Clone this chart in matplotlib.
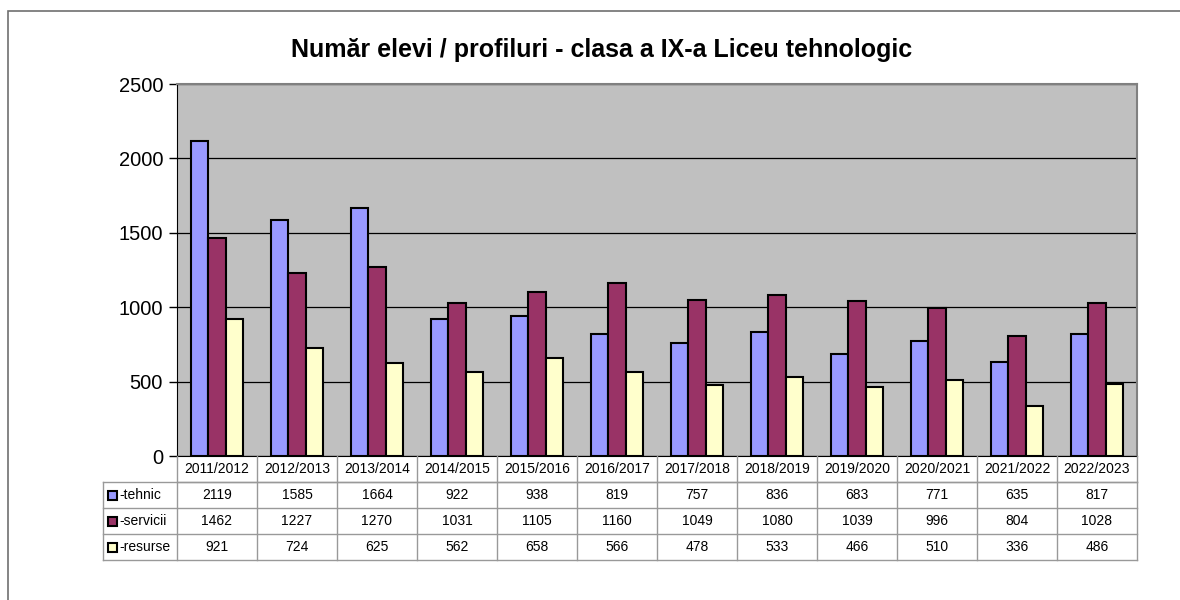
# Număr elevi / profiluri - clasa a IX-a Liceu tehnologic (grafic cu tabel de date)

import numpy as np
import matplotlib
matplotlib.use('Agg')
import matplotlib.pyplot as plt
from matplotlib.patches import Rectangle
from matplotlib.transforms import blended_transform_factory

plt.rcParams['font.family'] = ['Liberation Sans', 'DejaVu Sans']

# date
ani = ['2011/2012', '2012/2013', '2013/2014', '2014/2015', '2015/2016', '2016/2017',
       '2017/2018', '2018/2019', '2019/2020', '2020/2021', '2021/2022', '2022/2023']
tehnic = [2119, 1585, 1664, 922, 938, 819, 757, 836, 683, 771, 635, 817]
servicii = [1462, 1227, 1270, 1031, 1105, 1160, 1049, 1080, 1039, 996, 804, 1028]
resurse = [921, 724, 625, 562, 658, 566, 478, 533, 466, 510, 336, 486]
serii = ['-tehnic', '-servicii', '-resurse']
culori = ['#9999FF', '#993366', '#FFFFCC']

W, H = 1180, 600
fig = plt.figure(figsize=(W / 100, H / 100), dpi=100)

# chenar exterior
fig.add_artist(Rectangle((8 / W, -0.1), 1.2, 1 - 11 / H + 0.1, transform=fig.transFigure,
                         fill=False, edgecolor='#707070', linewidth=1.2))

ax = fig.add_axes([177 / W, 1 - 456 / H, 960 / W, 372 / H])
ax.set_facecolor('#C0C0C0')

x = np.arange(len(ani))
bw = 0.22
valori = [tehnic, servicii, resurse]
for i, (v, c) in enumerate(zip(valori, culori)):
    ax.bar(x + (i - 1) * bw, v, width=bw, color=c, edgecolor='black', linewidth=1.5, zorder=3)

ax.set_xlim(-0.5, len(ani) - 0.5)
ax.set_ylim(0, 2500)
ax.set_yticks([0, 500, 1000, 1500, 2000, 2500])
ax.yaxis.grid(True, color='black', linewidth=0.9, zorder=1)
ax.set_axisbelow(True)
ax.tick_params(axis='y', labelsize=14.5, length=6, width=1, pad=4)
ax.tick_params(axis='x', bottom=False, labelbottom=False)
for s in ['top', 'right']:
    ax.spines[s].set_color('#808080')
    ax.spines[s].set_linewidth(1.5)
ax.spines['left'].set_color('black')
ax.spines['bottom'].set_color('black')

fig.text(602 / W, 1 - 50 / H, 'Număr elevi / profiluri - clasa a IX-a Liceu tehnologic',
         ha='center', va='center', fontsize=18, fontweight='bold')

# tabel de date
tr = blended_transform_factory(ax.transData, fig.transFigure)
rand_y = [456, 482, 508, 534, 560]  # limite randuri in pixeli
fy = lambda p: 1 - p / H
gri = '#999999'
xs_col = np.arange(len(ani) + 1) - 0.5

# linii verticale
for xc in xs_col:
    fig.add_artist(plt.Line2D([xc, xc], [fy(456), fy(560)], transform=tr, color=gri, lw=1))
fig.add_artist(plt.Line2D([103 / W, 103 / W], [fy(482), fy(560)], transform=fig.transFigure,
                          color=gri, lw=1))
# linii orizontale
fig.add_artist(plt.Line2D([-0.5, len(ani) - 0.5], [fy(482), fy(482)], transform=tr, color=gri, lw=1))
for yy in rand_y[1:]:
    fig.add_artist(plt.Line2D([103 / W, 1137 / W], [fy(yy), fy(yy)], transform=fig.transFigure,
                              color=gri, lw=1))

for j, an in enumerate(ani):
    fig.text(j, fy(469), an, transform=tr, ha='center', va='center', fontsize=10)

for r, (nume, c, v) in enumerate(zip(serii, culori, valori)):
    ymid = fy((rand_y[r + 1] + rand_y[r + 2]) / 2)
    fig.add_artist(Rectangle((108 / W, ymid - 4.5 / H), 9 / W, 9 / H, transform=fig.transFigure,
                             facecolor=c, edgecolor='black', linewidth=1.5))
    fig.text(119 / W, ymid, nume, ha='left', va='center', fontsize=10)
    for j, val in enumerate(v):
        fig.text(j, ymid, str(val), transform=tr, ha='center', va='center', fontsize=10)

fig.savefig('out.png', dpi=100)
